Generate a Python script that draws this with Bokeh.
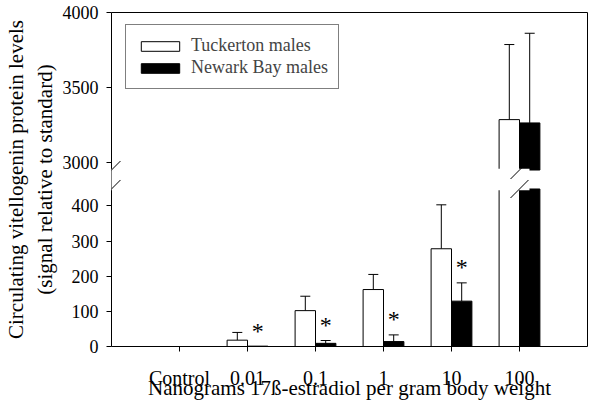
from bokeh.plotting import figure
from bokeh.models import (Range1d, FactorRange, LinearAxis, CategoricalAxis, FixedTicker,
                          CustomJSTickFormatter, ColumnDataSource, Whisker, TeeHead, Legend,
                          LegendItem, BoxAnnotation, Arrow)
from bokeh.transform import dodge
from bokeh.core.properties import value
from bokeh.embed import file_html
from bokeh.resources import INLINE

# ---------------- data ----------------
categories = ["Control", "0.01", "0.1", "1", "10", "100"]
tuckerton = [0, 18, 102, 162, 278, 3288]
tuckerton_err = [0, 22, 41, 43, 125, 499]
newark = [0, 1, 9, 14, 129, 3266]
newark_err = [0, 0, 8, 19, 52, 596]
significant = [False, True, True, True, True, False]
series_names = ["Tuckerton males", "Newark Bay males"]
lower_ticks = [0, 100, 200, 300, 400]
upper_ticks = [3000, 3500, 4000]
x_title = "Nanograms 17ß-estradiol per gram body weight"
y_title = "Circulating vitellogenin protein levels\n(signal relative to standard)"

# ---------------- layout / style constants ----------------
FONT = "Liberation Serif"
W, H = 596, 405
B_LEFT, B_RIGHT, B_TOP, B_BOTTOM = 110, 9, 12, 59
FRAME_H = H - B_TOP - B_BOTTOM
FRAME_W = W - B_LEFT - B_RIGHT
LOW_END = 950.0                    # lower-segment range end
UP_START, UP_END = 1780.0, 4000.0  # upper-segment range
BREAK_LOW, BREAK_HIGH = 448.0, 2953.0
BAR_W = 0.3
OFF = 0.15
STAR_OFFSET = 44.0


def to_lower(u):
    return (u - UP_START) / (UP_END - UP_START) * LOW_END


p = figure(width=W, height=H, output_backend="svg", toolbar_location=None,
           x_range=FactorRange(*categories, range_padding=1 / 6),
           y_range=Range1d(0, LOW_END),
           min_border_left=B_LEFT, min_border_right=B_RIGHT,
           min_border_top=B_TOP, min_border_bottom=B_BOTTOM)
p.extra_y_ranges = {"upper": Range1d(UP_START, UP_END)}
p.outline_line_color = None
p.xgrid.visible = False
p.ygrid.visible = False
p.background_fill_color = "white"
p.border_fill_color = "white"

n = len(categories)
px_x = (n + 1) / FRAME_W
px_lo = LOW_END / FRAME_H
px_up = (UP_END - UP_START) / FRAME_H

# ---------------- bars ----------------
colors = ["white", "black"]
offsets = [-OFF, OFF]
series = [tuckerton, newark]
errors = [tuckerton_err, newark_err]
legend_items = []
for name, vals, errs, col, off in zip(series_names, series, errors, colors, offsets):
    low_src = ColumnDataSource(dict(cat=categories, top=[min(v, BREAK_LOW) for v in vals]))
    r = p.vbar(x=dodge("cat", off, range=p.x_range), top="top", bottom=0, width=BAR_W,
               fill_color=col, line_color="black", line_width=1, source=low_src)
    legend_items.append(LegendItem(label=name, renderers=[r]))
    up_c = [c for c, v in zip(categories, vals) if v > BREAK_HIGH]
    up_v = [v for v in vals if v > BREAK_HIGH]
    up_src = ColumnDataSource(dict(cat=up_c, top=up_v))
    p.vbar(x=dodge("cat", off, range=p.x_range), top="top", bottom=BREAK_HIGH, width=BAR_W,
           fill_color=col, line_color="black", line_width=1, source=up_src,
           y_range_name="upper")

    # error bars (upper side only)
    lo_rows = [(c, v, v + e) for c, v, e in zip(categories, vals, errs) if e > 0 and v < BREAK_LOW]
    up_rows = [(c, v, v + e) for c, v, e in zip(categories, vals, errs) if e > 0 and v > BREAK_HIGH]
    for rows, rname in ((lo_rows, "default"), (up_rows, "upper")):
        if not rows:
            continue
        src = ColumnDataSource(dict(cat=[q[0] for q in rows], lo=[q[1] for q in rows],
                                    hi=[q[2] for q in rows]))
        w = Whisker(base=dodge("cat", off, range=p.x_range), lower="lo", upper="hi",
                    dimension="height", source=src, line_color="black", line_width=1,
                    lower_head=None,
                    upper_head=TeeHead(size=10, line_color="black", line_width=1),
                    y_range_name=rname)
        p.add_layout(w)

# asterisks over significant Newark Bay bars
star_src = ColumnDataSource(dict(
    cat=[c for c, s in zip(categories, significant) if s],
    y=[v + e + STAR_OFFSET for v, e, s in zip(newark, newark_err, significant) if s],
    t=["*" for s in significant if s]))
p.text(x=dodge("cat", OFF, range=p.x_range), y="y", text="t", source=star_src,
       text_font=value(FONT), text_font_size="24px", text_align="center",
       text_baseline="middle", text_color="black")

# ---------------- axes ----------------
yax = p.yaxis[0]
yax.ticker = FixedTicker(ticks=lower_ticks + [to_lower(t) for t in upper_ticks])
yax.formatter = CustomJSTickFormatter(
    args=dict(lo=LOW_END, us=UP_START, ue=UP_END, brk=BREAK_LOW),
    code="if (tick > brk) { return Math.round(us + tick / lo * (ue - us)).toString(); } return tick.toFixed(0);")
yax.axis_label = y_title
yax.axis_label_text_font = FONT
yax.axis_label_text_font_size = "21px"
yax.axis_label_text_font_style = "normal"
yax.axis_label_text_color = "black"
yax.axis_label_text_line_height = 1.2
yax.axis_label_standoff = 3
yax.major_label_text_font = FONT
yax.major_label_text_font_size = "18px"
yax.major_label_text_color = "black"
yax.major_label_standoff = 8
yax.major_tick_out = 5
yax.major_tick_in = 0
yax.minor_tick_line_color = None
yax.axis_line_color = "black"
yax.major_tick_line_color = "black"

xax = p.xaxis[0]
xax.axis_label = x_title
xax.axis_label_text_font = FONT
xax.axis_label_text_font_size = "21px"
xax.axis_label_text_font_style = "normal"
xax.axis_label_text_color = "black"
xax.axis_label_standoff = -16
xax.major_label_text_font = FONT
xax.major_label_text_font_size = "20px"
xax.major_label_text_color = "black"
xax.major_label_standoff = 15
xax.major_tick_out = 5
xax.major_tick_in = 0
xax.axis_line_color = "black"
xax.major_tick_line_color = "black"

right = LinearAxis(ticker=FixedTicker(ticks=[]), major_tick_line_color=None,
                   minor_tick_line_color=None, major_tick_out=0, major_tick_in=0,
                   minor_tick_out=0, major_label_standoff=0, axis_line_color="black")
p.add_layout(right, "right")
top = CategoricalAxis(ticker=FixedTicker(ticks=[]), major_tick_line_color=None,
                      minor_tick_line_color=None, major_tick_out=0, major_tick_in=0,
                      major_label_standoff=0, axis_line_color="black")
p.add_layout(top, "above")

# ---------------- axis break ----------------
x_left, x_right = -0.5, n - 0.5
p.add_layout(BoxAnnotation(left=x_left - 10 * px_x, right=x_right + 10 * px_x,
                           bottom=BREAK_LOW - 1.2 * px_lo, top=to_lower(BREAK_HIGH) + 1.2 * px_lo,
                           fill_color="white", fill_alpha=1, line_color=None))
dx = 9 * px_x
for xe in (x_left, x_right):
    p.add_layout(Arrow(end=None, x_start=xe - dx, y_start=BREAK_LOW - 9 * px_lo,
                       x_end=xe + dx, y_end=BREAK_LOW + 9 * px_lo,
                       line_color="black", line_width=1))
    p.add_layout(Arrow(end=None, x_start=xe - dx, y_start=BREAK_HIGH - 9 * px_up,
                       x_end=xe + dx, y_end=BREAK_HIGH + 9 * px_up,
                       line_color="black", line_width=1, y_range_name="upper"))

# ---------------- legend ----------------
LEG_H = 63
legend = Legend(items=legend_items, location=(14, FRAME_H - 14 - LEG_H), padding=10, spacing=1,
                label_height=21, glyph_width=48, glyph_height=12, label_standoff=7,
                label_text_font=FONT, label_text_font_size="18px",
                border_line_color="black", border_line_width=1,
                background_fill_color="white", background_fill_alpha=1)
p.add_layout(legend)

open("out.html", "w").write(file_html(p, INLINE))
